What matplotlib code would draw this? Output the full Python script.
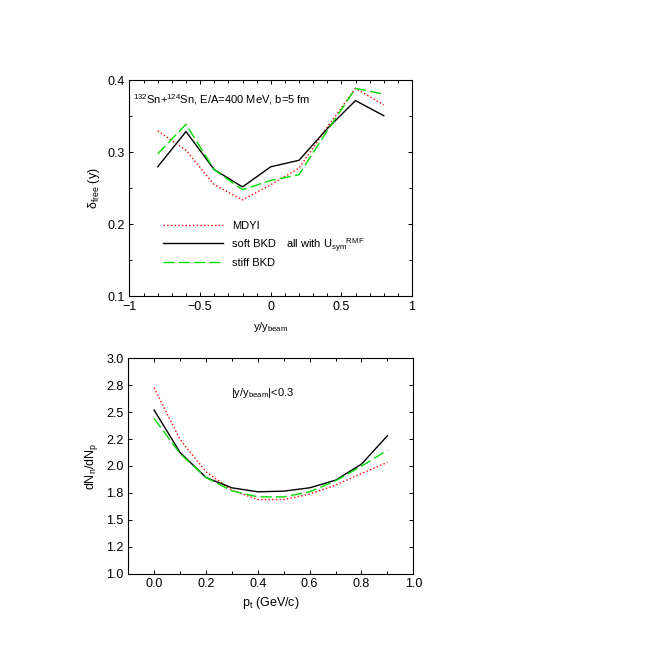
import matplotlib
matplotlib.use('Agg')
import matplotlib.pyplot as plt
from matplotlib.ticker import MultipleLocator, FormatStrFormatter
import numpy as np

plt.rcParams['font.family'] = ['Liberation Sans', 'DejaVu Sans']
plt.rcParams['mathtext.fontset'] = 'custom'
plt.rcParams['mathtext.rm'] = 'Liberation Sans'
plt.rcParams['mathtext.it'] = 'Liberation Sans:italic'
plt.rcParams['mathtext.default'] = 'regular'
plt.rcParams['font.size'] = 8

# top panel: delta_free vs rapidity
y_rap = [-0.8, -0.6, -0.4, -0.2, 0.0, 0.2, 0.4, 0.6, 0.8]
mdyi_top = [0.330, 0.303, 0.255, 0.234, 0.255, 0.278, 0.335, 0.389, 0.366]
soft_top = [0.280, 0.329, 0.276, 0.252, 0.280, 0.289, 0.333, 0.372, 0.351]
stiff_top = [0.298, 0.339, 0.276, 0.248, 0.261, 0.269, 0.330, 0.389, 0.381]

# bottom panel: dN_n/dN_p vs p_t
pt = [0.0, 0.1, 0.2, 0.3, 0.4, 0.5, 0.6, 0.7, 0.8, 0.9]
mdyi_bot = [2.727, 2.247, 1.946, 1.775, 1.688, 1.688, 1.738, 1.822, 1.930, 2.033]
soft_bot = [2.520, 2.126, 1.893, 1.797, 1.760, 1.766, 1.797, 1.868, 2.017, 2.281]
stiff_bot = [2.442, 2.116, 1.893, 1.769, 1.713, 1.713, 1.760, 1.862, 1.998, 2.147]

labels = ['MDYI', 'soft BKD', 'stiff BKD']
styles = [dict(color='red', ls=':', lw=1.0),
          dict(color='black', ls='-', lw=1.0),
          dict(color='#00dd00', ls=(0, (8, 3)), lw=1.0)]


def frame(ax):
    ax.tick_params(which='both', direction='in', top=True, right=True,
                   labelsize=9, length=3, width=0.7)
    ax.tick_params(which='minor', length=2)
    for s in ax.spines.values():
        s.set_linewidth(0.8)


def fmt_top(v, pos):
    if abs(v) < 1e-9:
        return '0'
    return ('%g' % v).replace('-', '\u2212')


fig = plt.figure(figsize=(6.54, 6.54), dpi=100)

ax1 = fig.add_axes([0.198, 0.547, 0.432, 0.330])
for yy, lab, st in zip([mdyi_top, soft_top, stiff_top], labels, styles):
    ax1.plot(y_rap, yy, label=lab, **st)
ax1.set_xlim(-1, 1)
ax1.set_ylim(0.1, 0.4)
ax1.xaxis.set_major_locator(MultipleLocator(0.5))
ax1.xaxis.set_minor_locator(MultipleLocator(0.1))
ax1.yaxis.set_major_locator(MultipleLocator(0.1))
ax1.yaxis.set_minor_locator(MultipleLocator(0.05))
ax1.xaxis.set_major_formatter(plt.FuncFormatter(fmt_top))
frame(ax1)
ax1.set_xlabel(r'y/y$_{beam}$', fontsize=8, labelpad=5)
ax1.set_ylabel(r'$\delta_{free}$ (y)', fontsize=9, labelpad=4)
ax1.text(0.013, 0.91, r'$^{132}$Sn+$^{124}$Sn, E/A=400 MeV, b=5 fm',
         transform=ax1.transAxes, fontsize=8, va='center')
ax1.text(0.555, 0.235, r'all with U$_{sym}$$^{RMF}$', transform=ax1.transAxes,
         fontsize=8, va='center')
ax1.legend(loc='upper left', bbox_to_anchor=(0.1, 0.375), frameon=False,
           handlelength=5.4, handletextpad=0.8, labelspacing=0.75,
           borderpad=0, fontsize=8)

ax2 = fig.add_axes([0.196, 0.123, 0.436, 0.329])
for yy, st in zip([mdyi_bot, soft_bot, stiff_bot], styles):
    ax2.plot(pt, yy, **st)
ax2.set_xlim(-0.1, 1.0)
ax2.set_ylim(1.0, 3.0)
ax2.xaxis.set_major_locator(MultipleLocator(0.2))
ax2.xaxis.set_minor_locator(MultipleLocator(0.1))
ax2.xaxis.set_major_formatter(FormatStrFormatter('%.1f'))
ax2.set_yticks(np.arange(1.0, 3.01, 0.25))
ax2.yaxis.set_major_formatter(FormatStrFormatter('%.1f'))
frame(ax2)
ax2.set_xlabel(r'p$_{t}$ (GeV/c)', fontsize=9, labelpad=3)
ax2.set_ylabel(r'dN$_{n}$/dN$_{p}$', fontsize=9, labelpad=4)
ax2.text(0.36, 0.84, r'|y/y$_{beam}$|<0.3', transform=ax2.transAxes,
         fontsize=8, va='center')

fig.savefig('out.png', dpi=100)
